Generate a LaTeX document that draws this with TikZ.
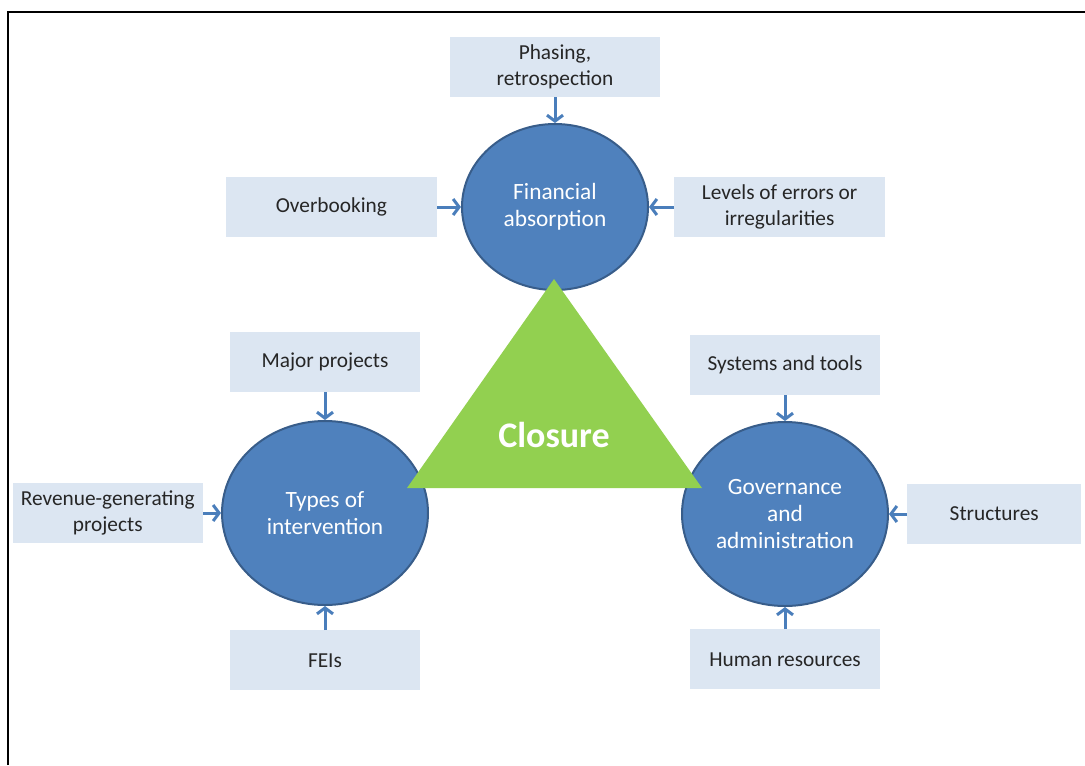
\documentclass[tikz,border=0pt]{standalone}
\usepackage{fontspec}
\setmainfont{Carlito}
\usetikzlibrary{positioning,shapes.geometric,arrows.meta}

\definecolor{circfill}{HTML}{4F81BD}
\definecolor{circline}{HTML}{385D8A}
\definecolor{boxfill}{HTML}{DCE6F2}
\definecolor{arrblue}{HTML}{4A7EBB}
\definecolor{closuregreen}{HTML}{92D050}

\tikzset{
	topic/.style={ellipse, draw=circline, line width=1.5pt, fill=circfill, text=white,
		align=center, inner sep=0pt, font=\fontsize{17.5}{20.5}\selectfont},
	factor/.style={fill=boxfill, text=black!85, align=center, minimum width=142.5pt,
		minimum height=45pt, inner sep=2pt, font=\fontsize{16}{20}\selectfont},
	wide/.style={minimum width=158pt},
	feed/.style={draw=arrblue, line width=2.25pt, -{Straight Barb[length=4.5pt,width=12pt]}}
}

\begin{document}
\begin{tikzpicture}[x=0.75pt, y=-0.75pt]
		\useasboundingbox (0,0) rectangle (1085,765);
		\draw[line width=1.5pt] (8,765) -- (8,12) -- (1085,12);
		\node[topic, minimum width=139.5pt, minimum height=124.5pt] (fin) at (555,207) {Financial\\absorption};
		\node[topic, minimum width=154.5pt, minimum height=138pt] (types) at (325,513) {Types of\\intervention};
		\node[topic, minimum width=154.5pt, minimum height=138pt] (gov) at (785,514) {Governance\\and\\administration};
		\fill[closuregreen] (554,279) -- (407,488) -- (702,488) -- cycle;
		\node[text=white, font=\bfseries\fontsize{27}{32}\selectfont] (closure) at (554,435) {Closure};
		\node[factor, wide, above = 19.5pt of fin] (phasing) {Phasing,\\retrospection};
		\node[factor, wide, left = 18pt of fin] (overbook) {Overbooking};
		\node[factor, wide, right = 18.75pt of fin] (errors) {Levels of errors or\\irregularities};
		\node[factor, above = 21pt of types] (major) {Major projects};
		\node[factor, left = 13.5pt of types] (revenue) {Revenue-generating\\projects};
		\node[factor, below = 18pt of types] (feis) {FEIs};
		\node[factor, above = 19.5pt of gov] (systems) {Systems and tools};
		\node[factor, minimum width=130.5pt, right = 13.5pt of gov] (structures) {Structures};
		\node[factor, below = 16.5pt of gov] (human) {Human resources};
		\draw[feed] (phasing) -- (fin);
		\draw[feed] (overbook) -- (fin);
		\draw[feed] (errors) -- (fin);
		\draw[feed] (major) -- (types);
		\draw[feed] (revenue) -- (types);
		\draw[feed] (feis) -- (types);
		\draw[feed] (systems) -- (gov);
		\draw[feed] (structures) -- (gov);
		\draw[feed] (human) -- (gov);
	\end{tikzpicture}
\end{document}
